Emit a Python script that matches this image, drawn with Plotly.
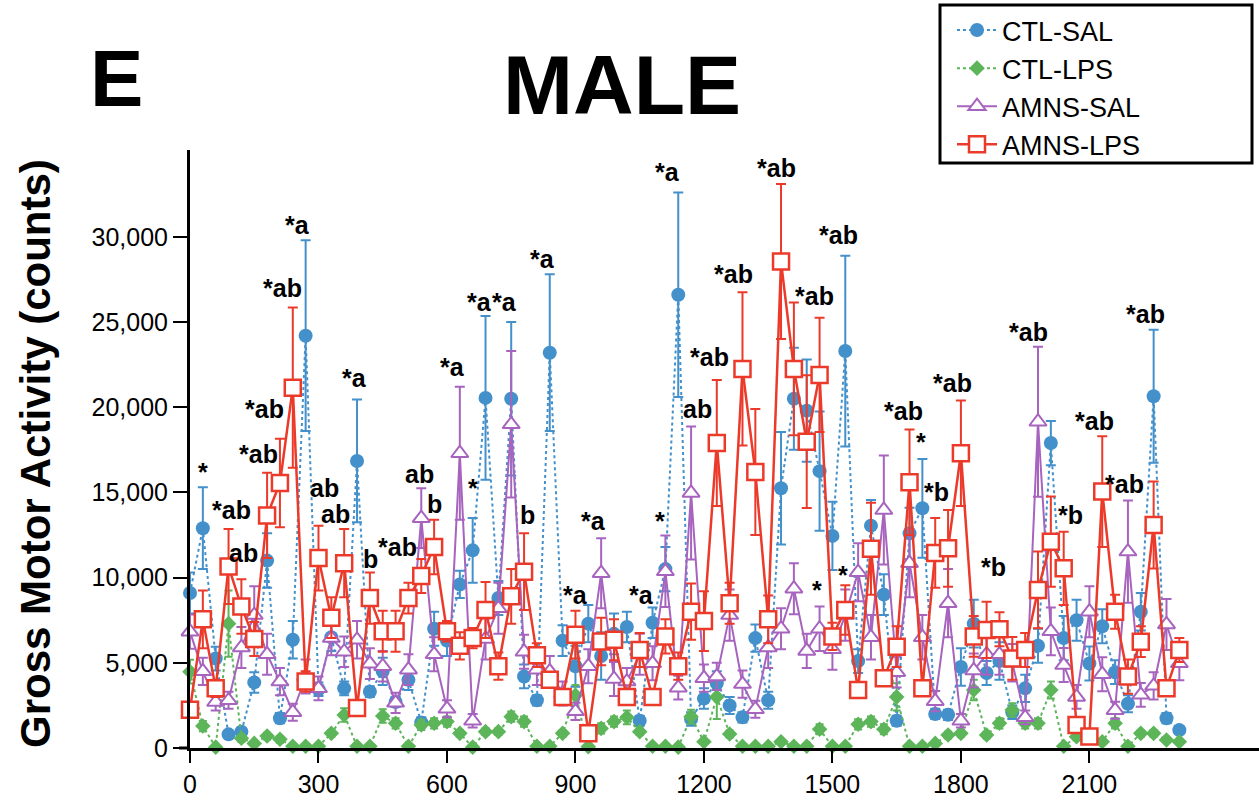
import plotly.graph_objects as go

# time bins (0..2310 step 30)
time_bins = list(range(0, 2340, 30))

ctl_sal = [9100, 12900, 5250, 800, 950, 3850, 11000, 1750, 6350, 24200,
           3450, 6500, 3500, 16850, 3300, 4500, 2700, 4000, 1500, 7000,
           6300, 9600, 11600, 20550, 8800, 20500, 4200, 2800, 23200, 6300,
           4800, 7300, 5400, 6700, 7100, 1600, 7350, 10500, 26600, 1700,
           2900, 3800, 2500, 1800, 6450, 2800, 15250, 20500, 19800, 16250,
           12450, 23300, 5100, 13050, 9000, 1600, 12600, 14070, 2000, 1950,
           4750, 7300, 4400, 5100, 2100, 3500, 6000, 17900, 6450, 7500,
           4960, 7150, 4450, 2600, 8000, 20650, 1750, 1050]
ctl_sal_err = [1200, 2400, 700, 200, 200, 600, 1600, 300, 1100, 5600,
               400, 800, 400, 3600, 300, 800, 300, 600, 300, 1000,
               900, 800, 1900, 4800, 1000, 4500, 700, 300, 4600, 900,
               1200, 1100, 1400, 1200, 900, 300, 900, 1300, 6000, 400,
               600, 700, 500, 300, 800, 500, 3300, 3000, 3000, 3500,
               2000, 5600, 700, 1500, 1200, 300, 1500, 2900, 300, 300,
               1100, 1400, 700, 1100, 400, 800, 1000, 1300, 1300, 1200,
               1000, 1000, 700, 500, 1100, 3900, 300, 200]

ctl_lps = [4480, 1290, 50, 7300, 570, 270, 700, 510, 100, 100,
           100, 860, 1940, 100, 100, 1880, 1450, 100, 1350, 1450,
           1550, 860, 50, 960, 960, 1840, 1550, 100, 100, 860,
           3100, 80, 1150, 1550, 1800, 960, 100, 100, 50, 1840,
           370, 3000, 820, 100, 100, 100, 370, 100, 100, 1100,
           100, 100, 1390, 1550, 1100, 3000, 100, 100, 270, 760,
           860, 3400, 760, 1450, 2230, 1450, 1450, 3400, 100, 660,
           660, 370, 1450, 100, 860, 860, 470, 370]
ctl_lps_err = [700, 300, 100, 1950, 200, 100, 200, 200, 100, 100,
               100, 200, 400, 100, 100, 400, 300, 100, 300, 300,
               300, 200, 100, 200, 200, 300, 300, 100, 100, 200,
               600, 100, 300, 300, 400, 200, 100, 100, 100, 400,
               100, 1300, 200, 100, 100, 100, 100, 100, 100, 300,
               100, 100, 300, 300, 300, 800, 100, 100, 100, 200,
               200, 600, 200, 300, 400, 300, 300, 500, 100, 200,
               200, 100, 300, 100, 200, 200, 100, 100]

amns_sal = [6830, 4500, 2700, 2800, 5900, 7800, 5500, 3900, 2100, 4200,
            3500, 6450, 5650, 6350, 4950, 4800, 2650, 4600, 13490, 5500,
            2300, 17300, 1600, 6400, 8200, 19000, 5650, 4600, 4500, 3200,
            2150, 4800, 10260, 4050, 3900, 5500, 4970, 10370, 3540, 14970,
            4100, 4200, 7800, 3750, 2280, 5900, 7000, 9350, 5700, 7000,
            5800, 7800, 10320, 6500, 13970, 4450, 10850, 6500, 2750, 8500,
            1600, 4550, 5500, 5500, 5000, 1800, 19150, 6850, 4870, 3000,
            8000, 4330, 2220, 11530, 3120, 3650, 7250, 4970]
amns_sal_err = [1000, 800, 500, 500, 1200, 1700, 1200, 800, 500, 1000,
                700, 1000, 900, 1100, 900, 900, 600, 900, 1750, 1000,
                500, 3900, 400, 1200, 1500, 4300, 1000, 900, 900, 700,
                500, 1000, 2050, 1000, 800, 1200, 1000, 2100, 700, 3900,
                800, 800, 1500, 800, 500, 1200, 1200, 1500, 1000, 1300,
                1200, 1500, 1700, 1300, 3200, 900, 2000, 1300, 600, 2000,
                400, 1000, 1200, 1200, 1100, 400, 4400, 1400, 1000, 700,
                1500, 1000, 500, 3000, 700, 800, 1500, 1000]

amns_lps = [2250, 7550, 3500, 10650, 8300, 6400, 13650, 15550, 21150, 3900,
            11150, 7650, 10850, 2350, 8800, 6850, 6850, 8800, 10100, 11800,
            6850, 6000, 6450, 8100, 4800, 8900, 10350, 5450, 4000, 3000,
            6650, 870, 6250, 6350, 3000, 5750, 3000, 6550, 4800, 8000,
            7450, 17900, 8500, 22250, 16200, 7550, 28550, 22250, 17980, 21900,
            6550, 8100, 3400, 11700, 4100, 5950, 15600, 3500, 11450, 11720,
            17300, 6550, 6930, 6970, 5260, 5750, 9280, 12110, 10550, 1350,
            670, 15050, 8000, 4190, 6240, 13090, 3500, 5750]
amns_lps_err = [400, 1700, 500, 2200, 1600, 1000, 2500, 2600, 4700, 600,
                1900, 1200, 2000, 300, 1500, 1200, 1200, 900, 1000, 1600,
                600, 800, 600, 1650, 800, 1600, 2250, 700, 300, 300,
                1400, 300, 1400, 1200, 300, 1000, 300, 1000, 800, 1650,
                1750, 3700, 1200, 4500, 3700, 1400, 4550, 3900, 3900, 3350,
                800, 1450, 300, 2700, 400, 1200, 3100, 300, 2050, 2250,
                3100, 1200, 1650, 1000, 1250, 1000, 2250, 2650, 2150, 300,
                300, 3250, 1000, 1000, 900, 2550, 300, 700]

# significance labels: text, time, value
sig_text = ["*a", "*ab", "*ab", "*ab", "*", "*ab", "ab", "ab", "ab", "*a",
            "b", "*ab", "ab", "b", "*a", "*", "*a", "*a", "b", "*a",
            "*a", "*a", "*a", "*", "*a", "ab", "*ab", "*ab", "*ab", "*ab",
            "*ab", "*", "*", "*ab", "*", "*b", "*ab", "*b", "*ab", "*b",
            "*ab", "*ab", "*ab"]
sig_x = [252, 215, 175, 159, 30, 98, 124, 315, 339, 385,
         422, 484, 537, 572, 614, 661, 675, 735, 789, 824,
         899, 941, 1055, 1097, 1116, 1184, 1214, 1268, 1370, 1459,
         1513, 1464, 1525, 1665, 1707, 1744, 1781, 1875, 1957, 2055,
         2113, 2183, 2230]
sig_y = [30710, 27010, 19900, 17260, 16210, 13980, 11450, 15270, 13740, 21730,
         11100, 11800, 16090, 14330, 22370, 15270, 26190, 26190, 13680, 28710,
         8980, 13330, 8980, 13330, 33820, 19900, 22960, 27830, 34060, 26540,
         30120, 9280, 10160, 19790, 17970, 15030, 21430, 10630, 24430, 13680,
         19200, 15500, 25480]

x_ticks = [0, 300, 600, 900, 1200, 1500, 1800, 2100]
y_ticks = [0, 5000, 10000, 15000, 20000, 25000, 30000]

BLUE = "#4390CB"
GREEN = "#5DB55A"
PURPLE = "#A764BE"
RED = "#EC3A2A"
FONT = "Liberation Sans, Arial, Helvetica, sans-serif"

fig = go.Figure()

fig.add_trace(go.Scatter(
    x=time_bins, y=ctl_sal, name="CTL-SAL", mode="lines+markers",
    line=dict(color=BLUE, width=2, dash="dot"),
    marker=dict(symbol="circle", size=14, color=BLUE),
    error_y=dict(type="data", array=ctl_sal_err, color=BLUE, thickness=2, width=5),
    cliponaxis=False))
fig.add_trace(go.Scatter(
    x=time_bins, y=ctl_lps, name="CTL-LPS", mode="lines+markers",
    line=dict(color=GREEN, width=2, dash="dot"),
    marker=dict(symbol="diamond", size=12, color=GREEN),
    error_y=dict(type="data", array=ctl_lps_err, color=GREEN, thickness=2, width=4),
    cliponaxis=False))
fig.add_trace(go.Scatter(
    x=time_bins, y=amns_sal, name="AMNS-SAL", mode="lines+markers",
    line=dict(color=PURPLE, width=2),
    marker=dict(symbol="triangle-up", size=15, color="white",
                line=dict(color=PURPLE, width=2)),
    error_y=dict(type="data", array=amns_sal_err, color=PURPLE, thickness=2, width=5),
    cliponaxis=False))
fig.add_trace(go.Scatter(
    x=time_bins, y=amns_lps, name="AMNS-LPS", mode="lines+markers",
    line=dict(color=RED, width=2.5),
    marker=dict(symbol="square", size=16, color="white",
                line=dict(color=RED, width=2.5)),
    error_y=dict(type="data", array=amns_lps_err, color=RED, thickness=2, width=5),
    cliponaxis=False))

for t, xv, yv in zip(sig_text, sig_x, sig_y):
    fig.add_annotation(x=xv, y=yv, text=t, showarrow=False, xref="x", yref="y",
                       xanchor="center", yanchor="middle",
                       font=dict(family=FONT, size=25, color="black", weight="bold"))

L, R, T, B = 190, 0, 150, 53
W, H = 1259, 801
pw, ph = W - L - R, H - T - B

def px(xp):
    return (xp - L) / pw

def py(yp):
    return (H - B - yp) / ph

fig.add_annotation(x=px(116), y=py(79), xref="paper", yref="paper", text="E",
                   xanchor="center", yanchor="middle", showarrow=False,
                   font=dict(family=FONT, size=80, color="black", weight="bold"))
fig.add_annotation(x=px(622), y=py(85), xref="paper", yref="paper", text="MALE",
                   xanchor="center", yanchor="middle", showarrow=False,
                   font=dict(family=FONT, size=84, color="black", weight="bold"))
fig.add_annotation(x=px(35), y=py(454), xref="paper", yref="paper",
                   text="Gross Motor Activity (counts)", textangle=-90,
                   xanchor="center", yanchor="middle", showarrow=False,
                   font=dict(family=FONT, size=42, color="black", weight="bold"))

# legend frame
fig.add_shape(type="rect", xref="paper", yref="paper",
              x0=px(940), x1=px(1252), y0=py(163), y1=py(5),
              line=dict(color="black", width=3), fillcolor="white", layer="below")
# x-axis line extending slightly left of the y axis
fig.add_shape(type="line", xref="paper", yref="paper",
              x0=px(179), x1=px(190), y0=0, y1=0,
              line=dict(color="black", width=3))

fig.update_layout(
    width=W, height=H,
    margin=dict(l=L, r=R, t=T, b=B, pad=0),
    paper_bgcolor="white", plot_bgcolor="white",
    font=dict(family=FONT, color="black"),
    showlegend=True,
    legend=dict(x=px(952), y=py(6), xanchor="left", yanchor="top",
                bgcolor="rgba(0,0,0,0)", borderwidth=0,
                font=dict(family=FONT, size=27, color="black"),
                tracegroupgap=0, itemwidth=40),
    xaxis=dict(range=[0, 2496], tickmode="array", tickvals=x_ticks,
               ticktext=[str(v) for v in x_ticks],
               showline=True, linecolor="black", linewidth=3,
               ticks="outside", ticklen=12, tickwidth=2, tickcolor="black",
               showgrid=False, zeroline=False,
               tickfont=dict(family=FONT, size=25, color="black")),
    yaxis=dict(range=[0, 35100], tickmode="array", tickvals=y_ticks,
               ticktext=[f"{v:,}" for v in y_ticks],
               showline=True, linecolor="black", linewidth=3,
               ticks="outside", ticklen=14, tickwidth=2, tickcolor="black",
               showgrid=False, zeroline=False,
               tickfont=dict(family=FONT, size=25, color="black")),
)

fig.write_html("out.html")
